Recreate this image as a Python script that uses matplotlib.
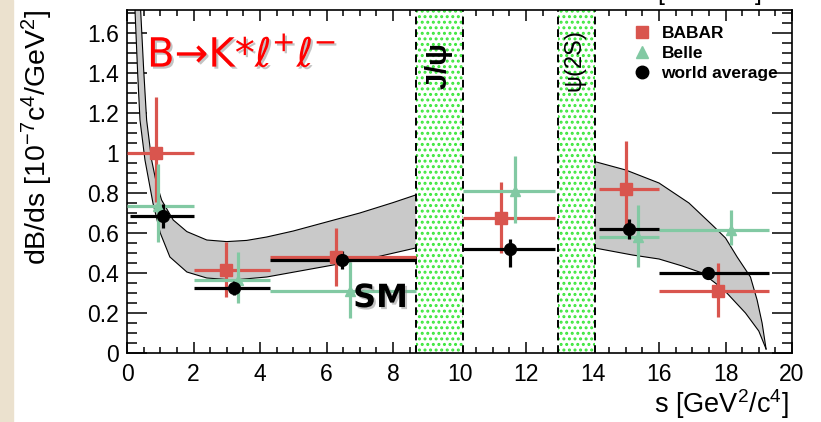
import numpy as np
import matplotlib
matplotlib.use('Agg')
import matplotlib.pyplot as plt
import matplotlib.patheffects as pe
from matplotlib.lines import Line2D
from matplotlib.patches import Rectangle
from matplotlib.ticker import MultipleLocator, FuncFormatter

plt.rcParams['font.family'] = ['Liberation Sans', 'DejaVu Sans']
plt.rcParams['mathtext.default'] = 'regular'
plt.rcParams['hatch.linewidth'] = 1.4

# bins (s in GeV^2/c^4)
bin_lo = [0.0, 2.0, 4.3, 10.09, 14.18, 16.0]
bin_hi = [2.0, 4.3, 8.68, 12.86, 16.0, 19.3]

# BABAR
babar_x = [0.87, 2.97, 6.30, 11.24, 15.00, 17.78]
babar_y = [1.00, 0.415, 0.48, 0.675, 0.82, 0.31]
babar_dn = [0.245, 0.135, 0.145, 0.175, 0.19, 0.13]
babar_up = [0.28, 0.14, 0.145, 0.18, 0.24, 0.14]

# Belle
belle_x = [0.92, 3.33, 6.70, 11.67, 15.37, 18.17]
belle_y = [0.735, 0.365, 0.31, 0.81, 0.58, 0.615]
belle_dn = [0.18, 0.115, 0.135, 0.16, 0.15, 0.075]
belle_up = [0.21, 0.14, 0.145, 0.175, 0.16, 0.10]

# world average
wa_lo = [0.1, 2.0, 4.3, 10.09, 14.18, 16.0]
wa_x = [1.07, 3.23, 6.46, 11.52, 15.10, 17.48]
wa_y = [0.685, 0.325, 0.465, 0.52, 0.618, 0.40]
wa_dn = [0.06, 0.035, 0.045, 0.09, 0.05, 0.03]
wa_up = [0.06, 0.035, 0.045, 0.05, 0.05, 0.03]

# SM band, low-s part
sm1_up_s = [0.41, 0.50, 0.59, 0.74, 0.87, 1.04, 1.39, 1.8, 2.4, 3.0, 3.6, 4.2, 5.0, 6.0, 7.0, 8.0, 8.68]
sm1_up = [1.715, 1.42, 1.165, 0.965, 0.86, 0.765, 0.665, 0.607, 0.565, 0.557, 0.563, 0.58, 0.61, 0.655, 0.70, 0.752, 0.79]
sm1_lo_s = [0.24, 0.32, 0.39, 0.54, 0.78, 1.0, 1.29, 1.8, 2.4, 3.2, 4.2, 5.2, 6.2, 7.5, 8.68]
sm1_lo = [1.715, 1.40, 1.165, 0.965, 0.75, 0.60, 0.48, 0.405, 0.375, 0.365, 0.38, 0.41, 0.44, 0.48, 0.525]

# SM band, high-s part
sm2_up_s = [14.07, 15.0, 16.0, 16.9, 17.6, 18.0, 18.35, 18.75, 18.95, 19.1, 19.22]
sm2_up = [0.957, 0.915, 0.85, 0.75, 0.64, 0.575, 0.48, 0.38, 0.265, 0.15, 0.02]
sm2_lo_s = [14.07, 15.2, 16.0, 16.7, 17.3, 17.73, 18.04, 18.6, 19.0, 19.22]
sm2_lo = [0.525, 0.49, 0.47, 0.435, 0.40, 0.345, 0.30, 0.20, 0.11, 0.02]

# charmonium vetoes
vetoes = [(8.68, 10.09, r'J/$\psi$'), (12.96, 14.06, r'$\psi$(2S)')]

red = '#d9554e'
green = '#82c9a3'

fig = plt.figure(figsize=(8.21, 4.22), dpi=100)
fig.patches.append(Rectangle((0, 0), 13 / 821, 1, transform=fig.transFigure,
                             color='#ebe1ce', zorder=0))
ax = fig.add_axes([0.1547, 0.1635, 0.81, 0.8128])

for us, uy, ls_, ly in [(sm1_up_s, sm1_up, sm1_lo_s, sm1_lo),
                        (sm2_up_s, sm2_up, sm2_lo_s, sm2_lo)]:
    ax.fill(np.r_[us, ls_[::-1]], np.r_[uy, ly[::-1]], color='#c9c9c9', lw=0, zorder=2)
    ax.plot(us, uy, color='k', lw=0.8, zorder=2.1)
    ax.plot(ls_, ly, color='k', lw=0.8, zorder=2.1)

for a, b, lab in vetoes:
    ax.axvspan(a, b, facecolor='white', edgecolor='#3ae63a', hatch='...', lw=0, zorder=2.2)
    ax.axvline(a, color='k', lw=1.4, ls=(0, (4, 2.5)), zorder=2.3)
    ax.axvline(b, color='k', lw=1.4, ls=(0, (4, 2.5)), zorder=2.3)

ax.text(9.38, 1.43, vetoes[0][2], rotation=90, ha='center', va='center',
        fontsize=21, fontweight='bold', zorder=4)
ax.text(13.49, 1.455, vetoes[1][2], rotation=90, ha='center', va='center',
        fontsize=17, zorder=4)

def draw(x, y, lo, hi, dn, up, fmt, col, ms):
    x = np.array(x); y = np.array(y)
    ax.errorbar(x, y, xerr=[x - np.array(lo), np.array(hi) - x], yerr=[dn, up],
                fmt=fmt, color=col, ms=ms, elinewidth=2.3, capsize=0, zorder=3)

draw(babar_x, babar_y, bin_lo, bin_hi, babar_dn, babar_up, 's', red, 8)
draw(belle_x, belle_y, bin_lo, bin_hi, belle_dn, belle_up, '^', green, 7)
draw(wa_x, wa_y, wa_lo, bin_hi, wa_dn, wa_up, 'o', 'k', 8.5)

ax.set_xlim(0, 20)
ax.set_ylim(0, 1.715)
ax.xaxis.set_major_locator(MultipleLocator(2))
ax.xaxis.set_minor_locator(MultipleLocator(0.5))
ax.yaxis.set_major_locator(MultipleLocator(0.2))
ax.yaxis.set_minor_locator(MultipleLocator(0.05))
fmt = FuncFormatter(lambda v, p: '%g' % round(v, 3))
ax.xaxis.set_major_formatter(fmt)
ax.yaxis.set_major_formatter(fmt)
ax.tick_params(which='both', direction='in', top=True, right=True, labelsize=16.5, colors='k')
ax.tick_params(axis='y', which='major', length=14.4, width=1.1, pad=6)
ax.tick_params(axis='y', which='minor', length=7.2, width=1.1)
ax.tick_params(axis='x', which='major', length=8, width=1.1, pad=7)
ax.tick_params(axis='x', which='minor', length=4.5, width=1.1)
for sp in ax.spines.values():
    sp.set_linewidth(1.2)

ax.set_ylabel('dB/ds [10$^{-7}$c$^{4}$/GeV$^{2}$]', fontsize=20.5, loc='top')
ax.yaxis.set_label_coords(-0.108, 1.0)
ax.set_xlabel('s [GeV$^{2}$/c$^{4}$]', fontsize=19.5, loc='right', va='top')
ax.xaxis.set_label_coords(0.995, -0.1)

shadow = [pe.withSimplePatchShadow(offset=(1.5, -1.5), shadow_rgbFace='#888888', alpha=0.5)]
ax.text(0.03, 0.834, r'B→K*$\ell^{+}\ell^{-}$', transform=ax.transAxes, color='red',
        fontsize=29, family='DejaVu Sans', va='baseline', path_effects=shadow, zorder=5)
ax.text(0.34, 0.134, 'SM', transform=ax.transAxes, color='k', fontsize=23,
        fontweight='bold', family='DejaVu Sans', va='baseline', path_effects=shadow, zorder=5)

handles = [Line2D([], [], marker='s', color=red, ls='none', ms=9),
           Line2D([], [], marker='^', color=green, ls='none', ms=8),
           Line2D([], [], marker='o', color='k', ls='none', ms=9)]
ax.legend(handles, ['BABAR', 'Belle', 'world average'], loc='upper left',
          bbox_to_anchor=(0.762, 0.955), frameon=False, borderpad=0, borderaxespad=0,
          handlelength=1.0, handletextpad=0.6, labelspacing=0.3,
          prop={'weight': 'bold', 'size': 12.5})

fig.text(0.8, 1.018, '[GeV$^{2}$/c$^{4}$]', fontsize=18, va='center', ha='left')

fig.savefig('out.png', dpi=100, facecolor='white')
